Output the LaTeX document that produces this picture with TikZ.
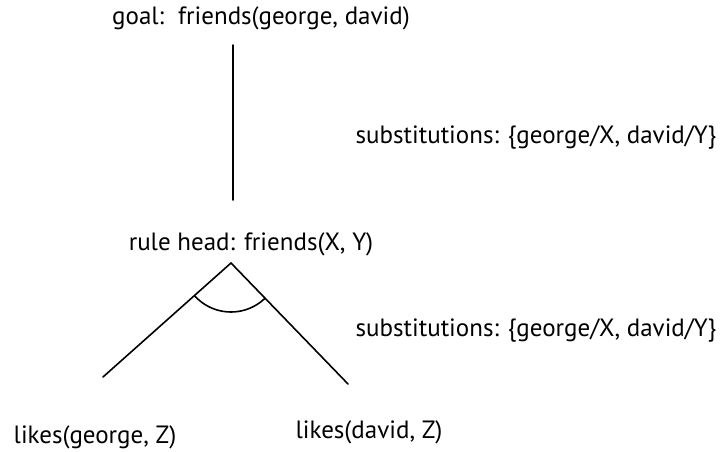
\documentclass[tikz,border=0pt]{standalone}
\usepackage{fontspec}
\setmainfont{PT Sans}
\usepackage{tikz}
\usetikzlibrary{positioning,calc}

\begin{document}
\begin{tikzpicture}[
      x=1pt,y=1pt,
      label/.style={inner sep=0,font=\fontsize{25}{28}\selectfont},
      branch/.style={line width=1.6pt,line cap=round}
    ]
    \useasboundingbox (0,0) rectangle (726,452);
    % texts
    \node[label] (goal)   at (261,434) {goal:\hspace{14pt}friends(george, david)};
    \node[label] (subst1) at (536,315) {substitutions: \{george/X, david/Y\}};
    \node[label] (rule)   at (251,208) {rule head: friends(X, Y)};
    \node[label] (subst2) at (536,122) {substitutions: \{george/X, david/Y\}};
    \node[label] (likes1) at (95,15)   {likes(george, Z)};
    \node[label] (likes2) at (369,20)  {likes(david, Z)};
    % tree
    \coordinate (top)   at (233,407);
    \coordinate (bot)   at (233,252);
    \coordinate (apex)  at (231,189);
    \coordinate (left)  at (103,75);
    \coordinate (right) at (348,68);
    \path[branch]
      (top) edge (bot)
      (apex) edge (left) edge (right)
      ;
    \draw[branch] ($(apex)+(221.7:49)$) arc[start angle=221.7,end angle=314,radius=49];
  \end{tikzpicture}
\end{document}
